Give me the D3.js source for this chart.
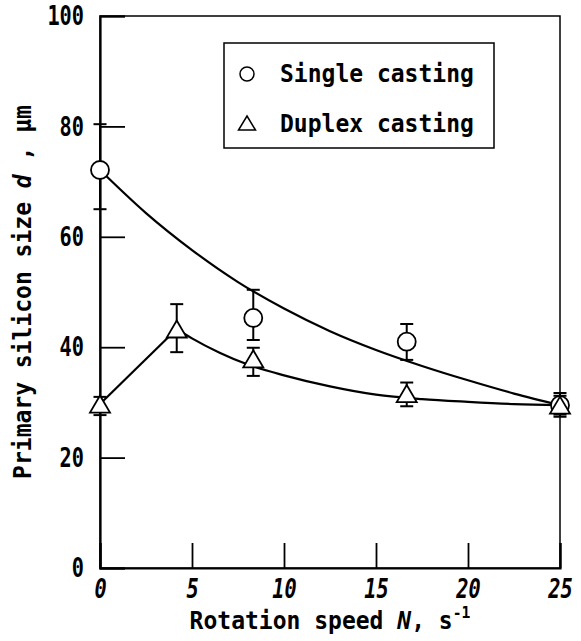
<html><head>
<script src="https://d3js.org/d3.v7.min.js"></script>
<style>
  body { margin: 0; background: white; }
  text { font-family: "DejaVu Sans Mono", monospace; font-weight: bold; fill: black; }
</style>
</head>
<body>
<svg id="chart" width="581" height="641"></svg>
<script>
  // measured points (rotation speed N, s^-1)
  const singleN = [0, 8.33, 16.67, 25];
  const singleD = [72.1, 45.3, 41.0, 29.5];
  const singleHi = [80.4, 50.4, 44.2, 31.7];
  const singleLo = [65.0, 41.3, 37.7, 27.4];

  const duplexN = [0, 4.17, 8.33, 16.67, 25];
  const duplexD = [29.7, 43.3, 37.9, 31.6, 29.5];
  const duplexHi = [31.0, 47.8, 39.9, 33.6, 31.2];
  const duplexLo = [27.7, 39.1, 34.8, 29.3, 27.8];

  // drawn trend lines
  const singleFitN = [0, 2.5, 5, 7.5, 10, 12.5, 15, 17.5, 20, 22.5, 25];
  const singleFitD = [72.1, 64.3, 57.6, 51.8, 47.0, 42.9, 39.5, 36.6, 34.0, 31.6, 29.5];
  const duplexRiseN = [0, 4.17];
  const duplexRiseD = [29.7, 43.3];
  const duplexFitN = [4.17, 5, 6.5, 8, 10, 12.5, 15, 17.5, 20, 22.5, 25];
  const duplexFitD = [43.3, 41.6, 39, 36.9, 34.9, 32.9, 31.4, 30.6, 30.1, 29.7, 29.5];

  const xTicks = [0, 5, 10, 15, 20, 25];
  const yTicks = [0, 20, 40, 60, 80, 100];
  const legendLabels = ["Single casting", "Duplex casting"];

  const svg = d3.select("svg#chart");
  const margin = { top: 16, right: 21, bottom: 73, left: 100 };
  const width = +svg.attr("width") - margin.left - margin.right;
  const height = +svg.attr("height") - margin.top - margin.bottom;

  const x = d3.scaleLinear().domain([0, 25]).range([margin.left, margin.left + width]);
  const y = d3.scaleLinear().domain([0, 100]).range([margin.top + height, margin.top]);

  // frame
  svg.append("rect")
     .attr("x", x(0)).attr("y", y(100))
     .attr("width", width).attr("height", height)
     .attr("fill", "none").attr("stroke", "black").attr("stroke-width", 1.5);

  const yAxis = svg.append("g")
     .attr("transform", `translate(${x(0)},0)`)
     .call(d3.axisLeft(y).tickValues(yTicks).tickSize(-25).tickPadding(16));
  yAxis.select(".domain").attr("stroke-width", 2.2);
  yAxis.selectAll(".tick line").attr("stroke-width", 1.8);
  yAxis.selectAll("text")
     .style("font-size", "27px")
     .attr("x", null)
     .attr("transform", "translate(-16,0) scale(0.75,1)");

  const xAxis = svg.append("g")
     .attr("transform", `translate(0,${y(0)})`)
     .call(d3.axisBottom(x).tickValues(xTicks).tickSize(-25).tickPadding(11));
  xAxis.select(".domain").attr("stroke-width", 2.2);
  xAxis.selectAll(".tick line").attr("stroke-width", 1.8);
  xAxis.selectAll("text")
     .style("font-size", "27px")
     .style("font-style", "italic")
     .attr("y", null)
     .attr("transform", "translate(0,11) scale(0.75,1)");

  // trend lines
  const line = d3.line().x(d => x(d[0])).y(d => y(d[1]));
  const curve = d3.line().x(d => x(d[0])).y(d => y(d[1])).curve(d3.curveMonotoneX);
  const plot = svg.append("g").attr("fill", "none").attr("stroke", "black").attr("stroke-width", 2.2);
  plot.append("path").attr("d", curve(d3.zip(singleFitN, singleFitD)));
  plot.append("path").attr("d", line(d3.zip(duplexRiseN, duplexRiseD)));
  plot.append("path").attr("d", curve(d3.zip(duplexFitN, duplexFitD)));

  // error bars
  const errs = d3.zip(singleN, singleHi, singleLo).concat(d3.zip(duplexN, duplexHi, duplexLo));
  const eb = svg.append("g").attr("stroke", "black").attr("stroke-width", 2);
  errs.forEach(e => {
    eb.append("line").attr("x1", x(e[0])).attr("x2", x(e[0])).attr("y1", y(e[1])).attr("y2", y(e[2]));
    eb.append("line").attr("x1", x(e[0]) - 6.5).attr("x2", x(e[0]) + 6.5).attr("y1", y(e[1])).attr("y2", y(e[1]));
    eb.append("line").attr("x1", x(e[0]) - 6.5).attr("x2", x(e[0]) + 6.5).attr("y1", y(e[2])).attr("y2", y(e[2]));
  });

  const tri = (cx, cy, w, h) => `M${cx},${cy - h / 2}L${cx + w / 2},${cy + h / 2}L${cx - w / 2},${cy + h / 2}Z`;

  svg.selectAll("circle.single").data(d3.zip(singleN, singleD))
     .join("circle")
     .attr("class", "single")
     .attr("cx", d => x(d[0])).attr("cy", d => y(d[1])).attr("r", 9)
     .attr("fill", "white").attr("stroke", "black").attr("stroke-width", 1.8);

  svg.selectAll("path.duplex").data(d3.zip(duplexN, duplexD))
     .join("path")
     .attr("class", "duplex")
     .attr("d", d => tri(x(d[0]), y(d[1]), 20, 17))
     .attr("fill", "white").attr("stroke", "black").attr("stroke-width", 1.8);

  // legend
  const lg = svg.append("g");
  lg.append("rect").attr("x", 224).attr("y", 43).attr("width", 270).attr("height", 105)
     .attr("fill", "white").attr("stroke", "black").attr("stroke-width", 1.5);
  lg.append("circle").attr("cx", 247).attr("cy", 74).attr("r", 7)
     .attr("fill", "white").attr("stroke", "black").attr("stroke-width", 1.5);
  lg.append("path").attr("d", tri(247, 123, 17, 14))
     .attr("fill", "white").attr("stroke", "black").attr("stroke-width", 1.5);
  legendLabels.forEach((t, i) => {
    lg.append("text")
      .attr("transform", `translate(280,${82 + i * 50}) scale(0.92,1)`)
      .style("font-size", "25px")
      .text(t);
  });

  // axis titles
  const xt = svg.append("text")
     .attr("transform", `translate(${x(12.5)},629) scale(0.92,1)`)
     .attr("text-anchor", "middle")
     .style("font-size", "25px");
  xt.append("tspan").text("Rotation speed ");
  xt.append("tspan").style("font-style", "italic").text("N");
  xt.append("tspan").text(", s");
  xt.append("tspan").attr("dy", -11).style("font-size", "16px").text("-1");

  const yt = svg.append("text")
     .attr("transform", `translate(31,${y(50)}) rotate(-90) scale(0.92,1)`)
     .attr("text-anchor", "middle")
     .style("font-size", "25px");
  yt.append("tspan").text("Primary silicon size ");
  yt.append("tspan").style("font-style", "italic").text("d");
  yt.append("tspan").text(" , μm");
</script>
</body>
</html>
